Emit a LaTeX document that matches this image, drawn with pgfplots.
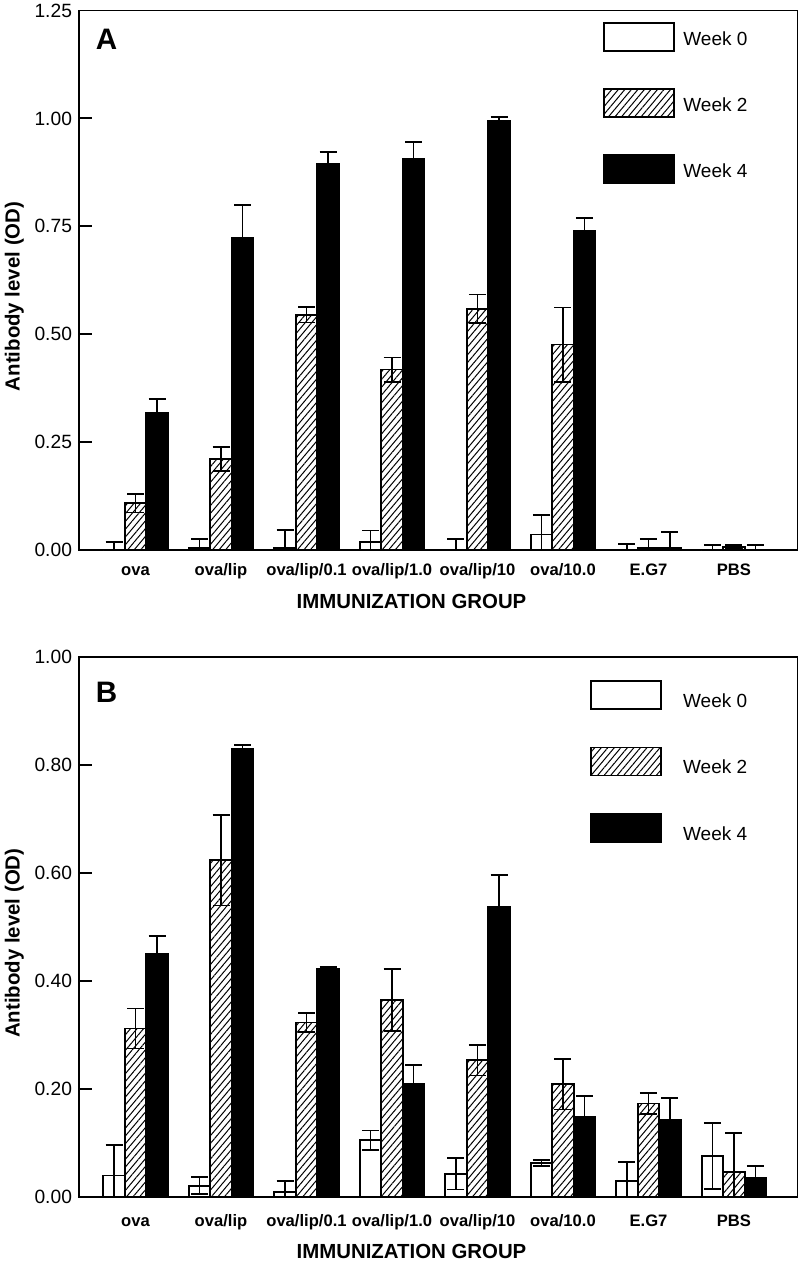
\documentclass[border=0pt]{standalone}
\usepackage{fontspec}
\setmainfont{Liberation Sans}
\usepackage{pgfplots}
\pgfplotsset{compat=1.18}
\usepackage{pgfplotstable}
\usetikzlibrary{patterns.meta}

\pgfplotstableread{
x w0 e0 w2 e2 w4 e4
0 0.000 0.019 0.108 0.021 0.318 0.032
1 0.005 0.020 0.211 0.028 0.724 0.075
2 0.005 0.041 0.545 0.018 0.894 0.028
3 0.019 0.026 0.418 0.028 0.907 0.039
4 0.000 0.025 0.559 0.033 0.994 0.009
5 0.036 0.045 0.476 0.086 0.739 0.031
6 0.000 0.013 0.004 0.021 0.004 0.038
7 0.000 0.012 0.007 0.005 0.000 0.012
}\dataA

\pgfplotstableread{
x w0 e0 w2 e2 w4 e4
0 0.040 0.057 0.312 0.037 0.450 0.033
1 0.021 0.016 0.624 0.084 0.830 0.007
2 0.009 0.021 0.323 0.018 0.422 0.004
3 0.105 0.018 0.365 0.057 0.209 0.035
4 0.043 0.029 0.253 0.028 0.537 0.059
5 0.063 0.005 0.209 0.047 0.149 0.038
6 0.030 0.035 0.173 0.019 0.143 0.041
7 0.076 0.061 0.047 0.071 0.036 0.021
}\dataB

\pgfplotsset{
  panel/.style={
    scale only axis, width=359.25pt,
    xmin=-0.661, xmax=7.743, ymin=0,
    xtick={0,...,7},
    xticklabels={ova,ova/lip,ova/lip/0.1,ova/lip/1.0,ova/lip/10,ova/10.0,E.G7,PBS},
    xtick style={draw=none},
    ytick pos=left, tick align=inside, major tick length=6.5pt,
    every tick/.style={black, line width=0.9pt},
    axis line style={line width=0.9pt},
    yticklabel style={font=\fontsize{9.6}{11}\selectfont,
      /pgf/number format/fixed, /pgf/number format/fixed zerofill,
      /pgf/number format/precision=2, /pgf/number format/assume math mode=true},
    xlabel={IMMUNIZATION GROUP},
    ylabel={Antibody level (OD)},
    label style={font=\bfseries\fontsize{10.2}{12}\selectfont},
    ylabel style={at={(axis description cs:-0.0828,0.47)}, anchor=base},
    legend cell align=left,
    clip=true,
  },
  boxleg/.style={legend image code/.code={\draw[##1, line width=0.9pt] (0pt,-7pt) rectangle (35pt,7pt);}},
  errb/.style={error bars/.cd, y dir=both, y explicit,
    error bar style={line width=0.9pt, black},
    error mark options={rotate=90, mark size=4.25pt, line width=0.9pt, black}},
  wk0/.style={ybar, bar width=10.75pt, bar shift=0pt, draw=black, line width=0.9pt, fill=white, boxleg, errb},
  wk2/.style={ybar, bar width=10.75pt, bar shift=0pt, draw=black, line width=0.9pt,
    pattern={Lines[angle=50, distance=2.5pt, line width=0.5pt]}, boxleg, errb},
  wk4/.style={ybar, bar width=10.75pt, bar shift=0pt, draw=black, line width=0.9pt, fill=black, boxleg, errb},
}

\begin{document}
\begin{tikzpicture}
\useasboundingbox (0,0) rectangle (399.5pt,-631pt);

\begin{axis}[panel,
  at={(39.5pt,-5.25pt)}, anchor=north west, height=269.75pt,
  ymax=1.25, ytick={0,0.25,0.5,0.75,1.0,1.25},
  xticklabel style={font=\bfseries\fontsize{8.3}{10}\selectfont, inner sep=0pt, text height=6.1pt, text depth=1.8pt, anchor=north, yshift=-6.65pt},
  xlabel style={at={(axis description cs:0.4628,-0.1081)}, anchor=base},
  legend style={at={(0.7294,0.979)}, anchor=north west, draw=none, fill=none, inner sep=0pt,
    row sep=18.1pt, column sep=4.05pt, font=\fontsize{9.5}{11}\selectfont,
    nodes={inner sep=0pt, yshift=-1.5pt}},
]
\addplot[wk0] table[x expr=\thisrow{x}-0.2515, y=w0, y error=e0]{\dataA};
\addplot[wk2] table[x=x, y=w2, y error=e2]{\dataA};
\addplot[wk4] table[x expr=\thisrow{x}+0.2515, y=w4, y error=e4]{\dataA};
\legend{Week 0, Week 2, Week 4}
\node[font=\bfseries\fontsize{14.8}{17}\selectfont, inner sep=0pt] at (rel axis cs:0.0383,0.946) {A};
\end{axis}

\begin{axis}[panel,
  at={(39.5pt,-328.5pt)}, anchor=north west, height=270pt,
  ymax=1.0, ytick={0,0.2,0.4,0.6,0.8,1.0},
  xticklabel style={font=\bfseries\fontsize{8.3}{10}\selectfont, inner sep=0pt, text height=6.1pt, text depth=1.8pt, anchor=north, yshift=-8.5pt},
  xlabel style={at={(axis description cs:0.4628,-0.113)}, anchor=base},
  legend style={at={(0.7109,0.9578)}, anchor=north west, draw=none, fill=none, inner sep=0pt,
    row sep=18.1pt, column sep=10.55pt, font=\fontsize{9.5}{11}\selectfont,
    nodes={inner sep=0pt, yshift=-3.5pt}},
]
\addplot[wk0] table[x expr=\thisrow{x}-0.2515, y=w0, y error=e0]{\dataB};
\addplot[wk2] table[x=x, y=w2, y error=e2]{\dataB};
\addplot[wk4] table[x expr=\thisrow{x}+0.2515, y=w4, y error=e4]{\dataB};
\legend{Week 0, Week 2, Week 4}
\node[font=\bfseries\fontsize{14.8}{17}\selectfont, inner sep=0pt] at (rel axis cs:0.0383,0.934) {B};
\end{axis}
\end{tikzpicture}
\end{document}
